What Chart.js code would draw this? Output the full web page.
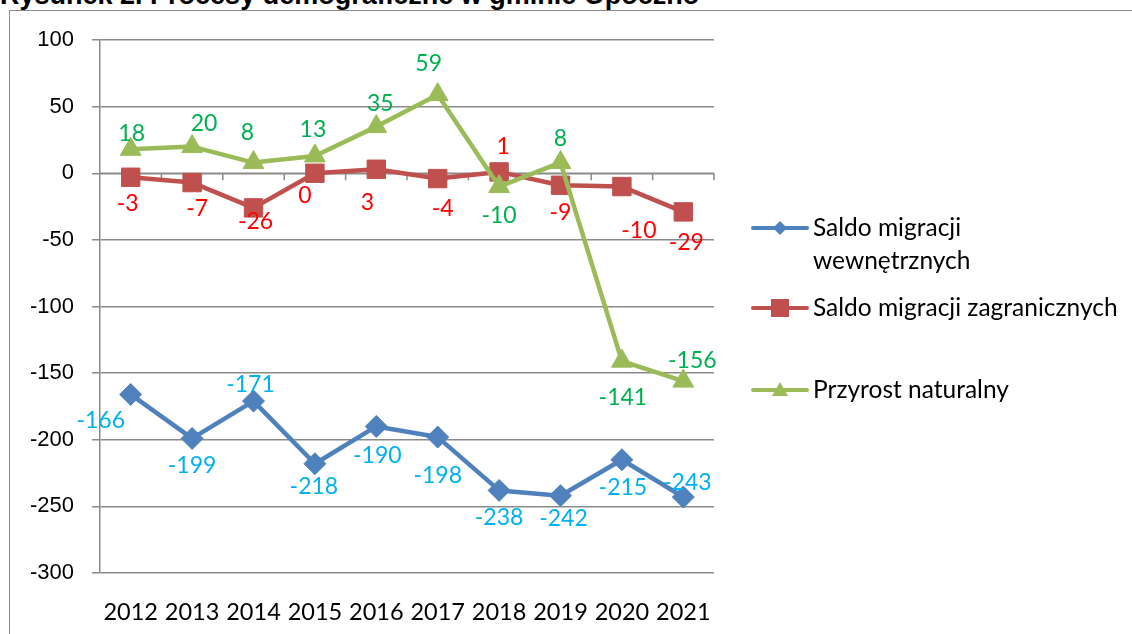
<!DOCTYPE html>
<html lang="pl">
<head>
<meta charset="UTF-8">
<title>Procesy demograficzne w gminie Opoczno</title>
<script src="https://cdn.jsdelivr.net/npm/chart.js"></script>
<style>
  html, body { margin: 0; padding: 0; background: #fff; overflow: hidden; }
  body { width: 1132px; height: 634px; position: relative; }
  .title {
    position: absolute; left: 0; top: -18px;
    font: bold 27px/27px "Liberation Sans", Arial, sans-serif;
    color: #000; white-space: nowrap;
  }
  .frame {
    position: absolute; left: 9px; top: 10px; width: 1200px; height: 700px;
    border: 1px solid #8a8a8a; box-sizing: border-box;
  }
  .chart-box { position: absolute; left: 0; top: 0; width: 1132px; height: 634px; }
</style>
</head>
<body>

<div class="title">Rysunek 2. Procesy demograficzne w gminie Opoczno</div>
<div class="frame"></div>
<div class="chart-box"><canvas id="demoChart" width="1132" height="634"></canvas></div>

<script>
// --- data ---
const years = ['2012', '2013', '2014', '2015', '2016', '2017', '2018', '2019', '2020', '2021'];
const saldoWewnetrzne = [-166, -199, -171, -218, -190, -198, -238, -242, -215, -243];
const saldoZagraniczne = [-3, -7, -26, 0, 3, -4, 1, -9, -10, -29];
const przyrostNaturalny = [18, 20, 8, 13, 35, 59, -10, 8, -141, -156];
const yMin = -300, yMax = 100, yStep = 50;

const GRID = '#8a8a8a';
const LABEL_FONT = '"Lato", "Noto Sans", sans-serif';

// data labels, placed next to each point like in the excel original
const valueLabels = {
    id: 'valueLabels',
    afterDatasetsDraw(chart) {
        const ctx = chart.ctx;
        ctx.save();
        ctx.font = '23px ' + LABEL_FONT;
        ctx.textAlign = 'center';
        ctx.textBaseline = 'middle';
        chart.data.datasets.forEach((ds, i) => {
            const meta = chart.getDatasetMeta(i);
            ctx.fillStyle = ds.labelColor;
            meta.data.forEach((pt, j) => {
                const off = ds.labelShift[j];
                ctx.fillText(String(ds.data[j]), pt.x + off[0], pt.y + off[1]);
            });
        });
        ctx.restore();
    }
};

// horizontal axis crosses at 0, with tick marks between categories
const zeroAxis = {
    id: 'zeroAxis',
    beforeDatasetsDraw(chart) {
        const ctx = chart.ctx;
        const x = chart.scales.x, y = chart.scales.y;
        const y0 = y.getPixelForValue(0);
        const n = years.length;
        ctx.save();
        ctx.strokeStyle = GRID;
        ctx.lineWidth = 1.5;
        ctx.beginPath();
        ctx.moveTo(x.left, y0);
        ctx.lineTo(x.right, y0);
        for (let i = 1; i <= n; i++) {
            const bx = x.left + i * x.width / n;
            ctx.moveTo(bx, y0);
            ctx.lineTo(bx, y0 + 7);
        }
        ctx.stroke();
        ctx.restore();
    }
};

function marker(ctx, style, cx, cy, s) {
    ctx.beginPath();
    if (style === 'rectRot') {
        ctx.moveTo(cx, cy - s); ctx.lineTo(cx + s, cy);
        ctx.lineTo(cx, cy + s); ctx.lineTo(cx - s, cy);
    } else if (style === 'rect') {
        ctx.rect(cx - s, cy - s, 2 * s, 2 * s);
    } else {
        ctx.moveTo(cx, cy - s); ctx.lineTo(cx + s, cy + s * 0.75);
        ctx.lineTo(cx - s, cy + s * 0.75);
    }
    ctx.closePath();
    ctx.fill();
}

// legend on the right: line with marker, wrapped text
const sideLegend = {
    id: 'sideLegend',
    afterDraw(chart, args, opts) {
        const ctx = chart.ctx;
        const x0 = chart.chartArea.right + 39;
        ctx.save();
        ctx.font = '24.5px ' + LABEL_FONT;
        ctx.textBaseline = 'middle';
        ctx.textAlign = 'left';
        chart.data.datasets.forEach((ds, i) => {
            const yy = opts.rows[i];
            ctx.strokeStyle = ds.borderColor;
            ctx.fillStyle = ds.borderColor;
            ctx.lineWidth = 4;
            ctx.lineCap = 'round';
            ctx.beginPath();
            ctx.moveTo(x0, yy);
            ctx.lineTo(x0 + 54, yy);
            ctx.stroke();
            marker(ctx, ds.pointStyle, x0 + 27, yy, opts.markerSize[i]);
            ctx.fillStyle = '#000';
            ds.legendLines.forEach((t, k) => ctx.fillText(t, x0 + 60, yy + k * 33));
        });
        ctx.restore();
    }
};

const chart = new Chart(document.getElementById('demoChart'), {
    type: 'line',
    data: {
        labels: years,
        datasets: [
            {
                label: 'Saldo migracji wewnętrznych',
                legendLines: ['Saldo migracji', 'wewnętrznych'],
                data: saldoWewnetrzne,
                borderColor: '#4f81bd',
                backgroundColor: '#4f81bd',
                pointStyle: 'rectRot',
                pointRadius: 11,
                labelColor: '#00b0f0',
                labelShift: [[-30, 26], [0, 27], [-3, -17], [-1, 23], [1, 29], [0, 38], [0, 27], [3, 23], [1, 28], [4, -14]],
                order: 2
            },
            {
                label: 'Saldo migracji zagranicznych',
                legendLines: ['Saldo migracji zagranicznych'],
                data: saldoZagraniczne,
                borderColor: '#c0504d',
                backgroundColor: '#c0504d',
                pointStyle: 'rect',
                pointRadius: 13,
                labelColor: '#ff0000',
                labelShift: [[-3, 26], [5, 26], [2, 14], [-10, 22], [-9, 33], [5, 30], [4, -25], [0, 27], [17, 44], [3, 31]],
                order: 1
            },
            {
                label: 'Przyrost naturalny',
                legendLines: ['Przyrost naturalny'],
                data: przyrostNaturalny,
                borderColor: '#9bbb59',
                backgroundColor: '#9bbb59',
                pointStyle: 'triangle',
                pointRadius: 12,
                labelColor: '#00b050',
                labelShift: [[1, -16], [12, -23], [-6, -30], [-2, -26], [4, -23], [-9, -31], [0, 29], [0, -24], [1, 36], [9, -21]],
                order: 0
            }
        ]
    },
    options: {
        responsive: false,
        animation: false,
        datasets: {
            line: {
                borderWidth: 4.5,
                borderJoinStyle: 'round',
                borderCapStyle: 'round',
                pointBorderWidth: 1,
                tension: 0
            }
        },
        layout: { padding: { left: 0, top: 40, right: 418, bottom: 1 } },
        plugins: {
            legend: { display: false },
            tooltip: { enabled: false },
            sideLegend: { rows: [228, 308, 390], markerSize: [7, 9, 8] }
        },
        scales: {
            x: {
                offset: true,
                grid: { display: false },
                border: { display: false },
                ticks: {
                    color: '#000',
                    font: { family: LABEL_FONT, size: 23.5 },
                    padding: 17,
                    maxRotation: 0,
                    autoSkip: false
                },
                afterFit(s) { s.height = 60; }
            },
            y: {
                min: yMin,
                max: yMax,
                ticks: {
                    stepSize: yStep,
                    color: '#000',
                    font: { family: '"Liberation Sans", Arial, sans-serif', size: 22 },
                    padding: 18
                },
                grid: { color: GRID, lineWidth: 1.5, tickLength: 8, drawTicks: true },
                border: { color: GRID, width: 1.5 },
                afterFit(s) { s.width = 100; }
            }
        }
    },
    plugins: [zeroAxis, valueLabels, sideLegend]
});
</script>
</body>
</html>
